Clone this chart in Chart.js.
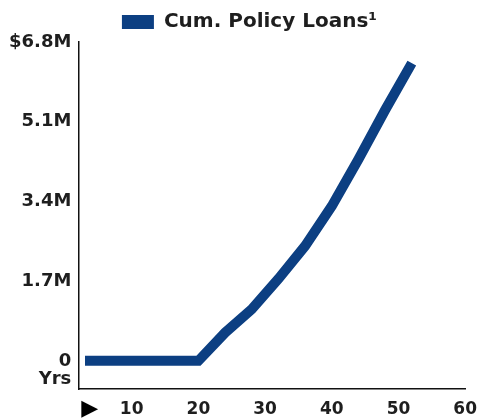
<!DOCTYPE html>
<html>
<head>
<meta charset="utf-8">
<script src="https://cdn.jsdelivr.net/npm/chart.js@4"></script>
<style>
  html, body { margin: 0; padding: 0; background: #fff; }
  #wrap { width: 477px; height: 418px; }
</style>
</head>
<body>
<div id="wrap"><canvas id="loanChart"></canvas></div>
<script>
// years on the x axis, cumulative policy loans in $M
const years = [3, 20, 24, 28, 32, 36, 40, 44, 48, 52];
const loans = [0, 0, 0.6, 1.1, 1.75, 2.45, 3.3, 4.3, 5.35, 6.35];

const xTickVals = [3.7, 10, 20, 30, 40, 50, 60];
const xTickLabels = ['\u25B6', '10', '20', '30', '40', '50', '60'];
const yTickVals = [0, 1.7, 3.4, 5.1, 6.8];
const yTickLabels = ['0', '1.7M', '3.4M', '5.1M', '$6.8M'];
const xUnitLabel = 'Yrs';

const ink = '#1e1e1e';
const blue = '#0c3f82';
const tickFont = {family: 'DejaVu Sans', size: 18, weight: 'bold'};

// "Yrs" sits under the 0 label, left of the axis
const yrsLabel = {
    id: 'yrsLabel',
    afterDraw(chart) {
        const y = chart.scales.y;
        const c = chart.ctx;
        c.save();
        c.font = 'bold 18px "DejaVu Sans"';
        c.fillStyle = ink;
        c.textAlign = 'right';
        c.textBaseline = 'middle';
        c.fillText(xUnitLabel, y.right - 7, y.getPixelForValue(0) + 18);
        c.restore();
    }
};

const ctx = document.getElementById('loanChart').getContext('2d');
new Chart(ctx, {
    type: 'line',
    data: {
        datasets: [{
            label: 'Cum. Policy Loans\u00B9',
            data: years.map((y, i) => ({x: y, y: loans[i]})),
            borderColor: blue,
            backgroundColor: blue,
            borderWidth: 10,
            pointRadius: 0,
            tension: 0,
            fill: false
        }]
    },
    plugins: [yrsLabel],
    options: {
        responsive: true,
        maintainAspectRatio: false,
        animation: false,
        layout: {padding: {left: 2, right: -20, top: 2, bottom: 0}},
        plugins: {
            legend: {
                position: 'top',
                labels: {
                    boxWidth: 32,
                    boxHeight: 14,
                    padding: 10,
                    color: ink,
                    font: {family: 'DejaVu Sans', size: 20, weight: 'bold'},
                    generateLabels: chart => Chart.defaults.plugins.legend.labels.generateLabels(chart)
                        .map(l => Object.assign(l, {lineWidth: 0}))
                }
            },
            tooltip: {enabled: false}
        },
        scales: {
            x: {
                type: 'linear',
                min: 2,
                max: 60,
                grid: {display: false, drawTicks: true, tickLength: 12},
                border: {display: true, color: '#111', width: 1.5},
                afterBuildTicks: axis => { axis.ticks = xTickVals.map(v => ({value: v})); },
                ticks: {
                    padding: 0,
                    autoSkip: false,
                    maxRotation: 0,
                    color: c => c.index === 0 ? '#000' : ink,
                    font: c => c.index === 0
                        ? {family: 'DejaVu Sans', size: 22, weight: 'bold', lineHeight: 0.77}
                        : {family: 'DejaVu Sans', size: 17, weight: 'bold', lineHeight: 1.0},
                    callback: (v, i) => xTickLabels[i]
                }
            },
            y: {
                min: -0.6,
                max: 6.8,
                grid: {display: false, drawTicks: false},
                border: {display: true, color: '#111', width: 1.5},
                afterBuildTicks: axis => { axis.ticks = yTickVals.map(v => ({value: v})); },
                ticks: {
                    padding: 7,
                    autoSkip: false,
                    color: ink,
                    font: tickFont,
                    callback: (v, i) => yTickLabels[i]
                }
            }
        }
    }
});
</script>
</body>
</html>
